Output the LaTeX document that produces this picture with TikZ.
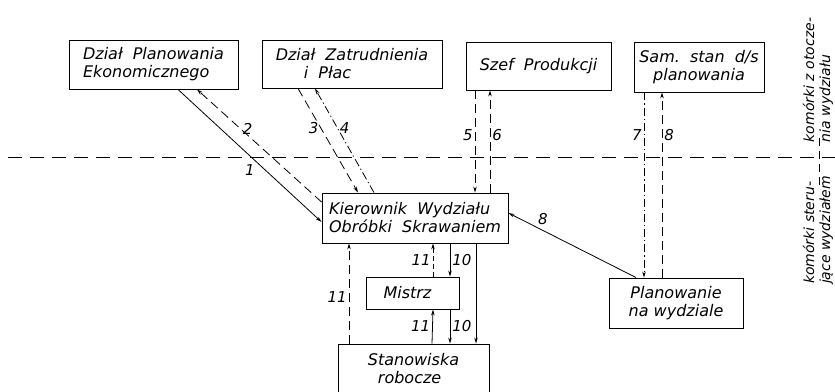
\documentclass[tikz,border=0pt]{standalone}
\usepackage{fontspec}
\setmainfont{DejaVu Sans}
\usetikzlibrary{arrows.meta, positioning}
\tikzset{
  unit/.style   = {rectangle, draw, line width=0.9pt, inner sep=3pt,
                   font=\fontsize{16}{18}\selectfont\itshape},
  side/.style   = {align=left, inner sep=0pt, font=\fontsize{14}{16}\selectfont\itshape},
  lbl/.style    = {inner sep=2pt, font=\fontsize{15}{17}\selectfont\itshape},
  arrow/.style  = {line width=0.8pt, -{Stealth[length=6pt,width=3.5pt]}},
  dasharrow/.style = {arrow, dash pattern=on 9pt off 5pt},
  dotarrow/.style  = {arrow, dash pattern=on 8pt off 3pt on 1.2pt off 3pt},
  border/.style = {line width=0.9pt, dash pattern=on 14pt off 8pt},
}

\begin{document}
\begin{tikzpicture}[x=1pt, y=-1pt]

    \useasboundingbox (0,0) rectangle (835,391);
    \clip (0,0) rectangle (835,391);

    %% Zone border
    \coordinate (bl) at (8,157);
    \coordinate (br) at (835,157);
    \coordinate (vt) at (819,138);
    \coordinate (vb) at (819,186);
    \draw[border] (bl) -- (br);
    \draw[border, dash pattern=on 8pt off 5pt] (vt) -- (vb);

    \node[side, rotate=90] (outer) at (818,80)  {komórki z otocze-\\nia wydziału};
    \node[side, rotate=90] (inner) at (818,230) {komórki steru-\\jące wydziałem};

    %% Cells around the department
    \node[unit, minimum width=169pt, minimum height=49pt, align=left]
          (ekon) at (153.5,64.5) {Dział~~Planowania\\Ekonomicznego};
    \node[unit, minimum width=180pt, minimum height=48pt, align=left]
          (zatr) at (352,64)     {Dział~~Zatrudnienia\\\hspace*{28pt}i~~Płac};
    \node[unit, minimum width=145pt, minimum height=48pt]
          (szef) at (538.5,66)   {Szef~~Produkcji};
    \node[unit, minimum width=130pt, minimum height=50pt, align=center]
          (sam)  at (699,67)     {Sam.~~stan~~d/s\\planowania};

    %% Cells inside the department
    \node[unit, minimum width=186pt, minimum height=50pt, align=left]
          (kier)   at (415,218)   {Kierownik~~Wydziału\\Obróbki~~Skrawaniem};
    \node[unit, minimum width=93pt, minimum height=32pt]
          (mistrz) at (412.5,293) {Mistrz~~~};
    \node[unit, minimum width=151pt, minimum height=50pt, align=left]
          (stan)   at (413.5,369) {Stanowiska\\\hspace*{10pt}robocze};
    \node[unit, minimum width=134pt, minimum height=50pt, align=center]
          (plan)   at (676,303)   {Planowanie\\na wydziale};

    %% Upper flows
    \draw[arrow]     ([xshift=24.5pt]ekon.south) -- node[lbl, pos=0.55, below left]{1} ([yshift=-4pt]kier.west);
    \draw[dasharrow] ([yshift=16pt]kier.west)    -- node[lbl, pos=0.65, right]{2}       ([xshift=43.5pt]ekon.south);
    \draw[dasharrow] ([xshift=-54pt]zatr.south)  -- node[lbl, pos=0.38, left]{3}        ([xshift=-57pt]kier.north);
    \draw[dotarrow]  ([xshift=-41pt]kier.north)  -- node[lbl, pos=0.62, right]{4}       ([xshift=-37pt]zatr.south);
    \draw[dasharrow] ([xshift=-63.5pt]szef.south) -- node[lbl, pos=0.44, left]{5}       ([xshift=60pt]kier.north);
    \draw[dasharrow] ([xshift=75pt]kier.north)   -- node[lbl, pos=0.56, right]{6}       ([xshift=-48.5pt]szef.south);
    \draw[dotarrow]  ([xshift=-55pt]sam.south)   -- node[lbl, pos=0.23, left]{7}        ([xshift=-32pt]plan.north);
    \draw[dasharrow] ([xshift=-14pt]plan.north)  -- node[lbl, pos=0.77, right]{8}       ([xshift=-37pt]sam.south);
    \draw[arrow]     ([xshift=-40pt]plan.north)  -- node[lbl, pos=0.73, above=3pt]{8}   ([yshift=5pt]kier.east);

    %% Lower flows
    \draw[dasharrow] ([xshift=-64.5pt]stan.north) -- node[lbl, pos=0.46, left]{11} ([xshift=-66pt]kier.south);
    \draw[dasharrow, dash pattern=on 5pt off 3pt] ([xshift=20.5pt]mistrz.north) -- node[lbl, left]{11} ([xshift=18pt]kier.south);
    \draw[arrow]     ([xshift=35pt]kier.south)   -- node[lbl, right]{10} ([xshift=37.5pt]mistrz.north);
    \draw[arrow]     ([xshift=18.5pt]stan.north) -- node[lbl, left]{11}  ([xshift=20.5pt]mistrz.south);
    \draw[arrow]     ([xshift=37.5pt]mistrz.south) -- node[lbl, right]{10} ([xshift=36.5pt]stan.north);
    \draw[arrow]     ([xshift=61pt]kier.south)   -- ([xshift=62.5pt]stan.north);

  \end{tikzpicture}
\end{document}
